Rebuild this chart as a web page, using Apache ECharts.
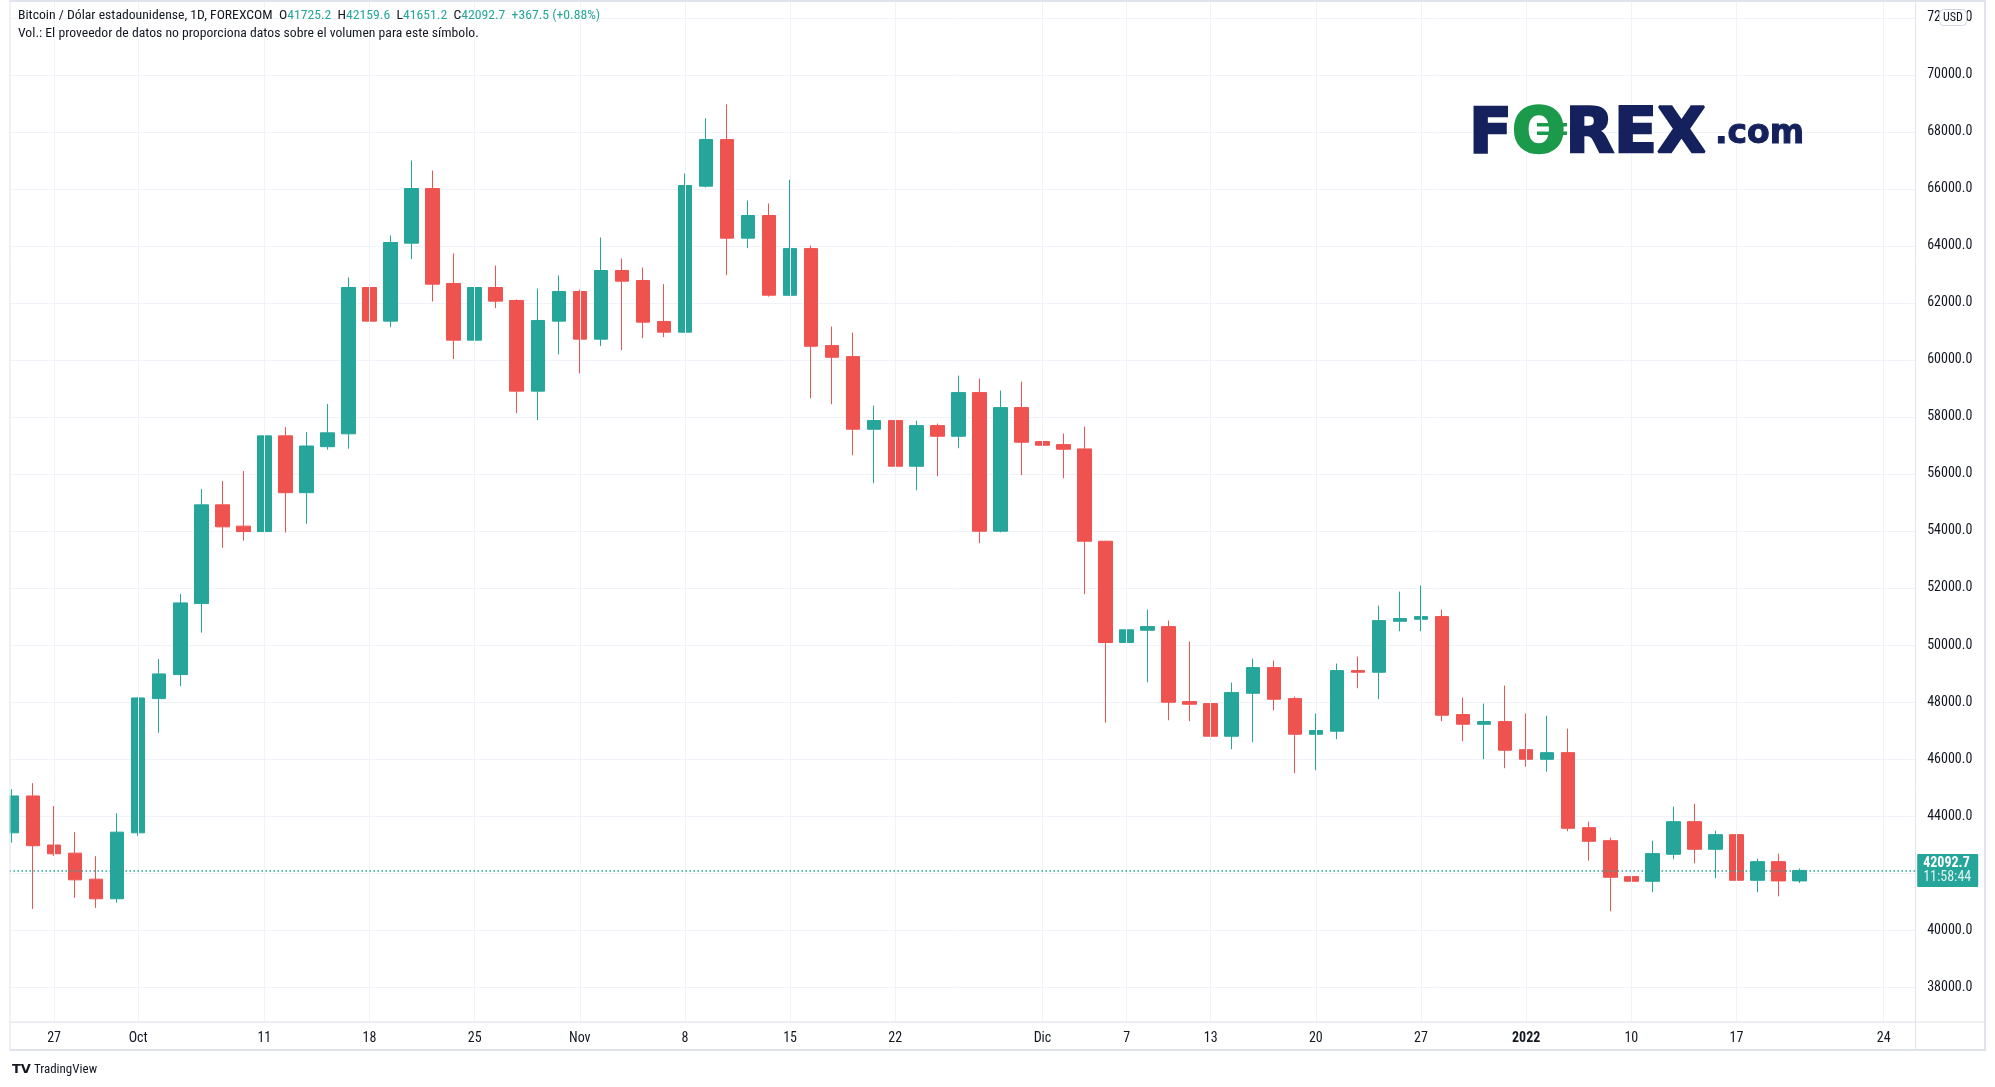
<!DOCTYPE html>
<html><head><meta charset="utf-8">
<script src="https://cdn.jsdelivr.net/npm/echarts@6/dist/echarts.min.js"></script>
<style>html,body{margin:0;padding:0;background:#fff}#c{width:1995px;height:1087px}</style>
</head><body><div id="c"></div>
<script>
const tradingDates = [
'2021-09-23','2021-09-24','2021-09-27','2021-09-28','2021-09-29','2021-09-30',
'2021-10-01','2021-10-04','2021-10-05','2021-10-06','2021-10-07','2021-10-08','2021-10-11','2021-10-12','2021-10-13','2021-10-14','2021-10-15','2021-10-18','2021-10-19','2021-10-20','2021-10-21','2021-10-22','2021-10-25','2021-10-26','2021-10-27','2021-10-28','2021-10-29',
'2021-11-01','2021-11-02','2021-11-03','2021-11-04','2021-11-05','2021-11-08','2021-11-09','2021-11-10','2021-11-11','2021-11-12','2021-11-15','2021-11-16','2021-11-17','2021-11-18','2021-11-19','2021-11-22','2021-11-23','2021-11-24','2021-11-25','2021-11-26','2021-11-29','2021-11-30',
'2021-12-01','2021-12-02','2021-12-03','2021-12-06','2021-12-07','2021-12-08','2021-12-09','2021-12-10','2021-12-13','2021-12-14','2021-12-15','2021-12-16','2021-12-17','2021-12-20','2021-12-21','2021-12-22','2021-12-23','2021-12-24','2021-12-27','2021-12-28','2021-12-29','2021-12-30','2021-12-31',
'2022-01-03','2022-01-04','2022-01-05','2022-01-06','2022-01-07','2022-01-10','2022-01-11','2022-01-12','2022-01-13','2022-01-14','2022-01-17','2022-01-18','2022-01-19','2022-01-20'];
const futureDates = ['2022-01-21','2022-01-22','2022-01-23','2022-01-24','2022-01-25'];

const opens = [43412,44705,42985,42700,41787,41099,43412,48120,48962,51453,54916,54169,53979,57336,55343,56956,57407,62540,61360,64095,66012,62681,60693,62540,62085,58905,61360,62400,60728,63136,62786,61348,60974,66094,67731,64270,65065,62267,63904,60502,60116,57568,57872,56270,57696,57322,58854,53991,58328,57135,57030,56878,53640,50088,50518,50646,48016,47946,46800,48308,49208,48121,46870,46976,49103,49045,50834,50904,50997,47560,47221,47315,46330,45991,46225,43594,43138,41876,41713,42660,43805,42835,43349,41748,42402,41725.2];
const highs = [44942,45155,44349,43436,42594,44100,48168,49508,51785,55474,55758,56102,57822,57644,57466,58450,62894,62681,64364,66994,66643,63733,63698,63312,62120,62505,62961,62470,64294,63557,63242,62657,66538,68475,68966,65591,65486,66324,64009,61168,60958,58398,59590,57872,57767,59450,59345,58924,59240,59099,57416,57662,53659,51965,51242,50857,50120,50401,48682,49524,49454,48192,47595,49349,49594,51383,51874,52084,51242,48156,47946,48577,47593,47522,47067,43805,43244,42507,43139,44331,44436,43489,43349,42507,42683,42159.6];
const lows = [43068,40744,42605,41135,40779,40957,43305,46922,48559,50433,53410,53659,53950,53944,54252,56849,56885,59325,61149,63534,62049,60027,60658,61815,58133,57888,60191,59524,60483,60343,60763,60798,60950,66050,62973,63920,62220,62240,58655,58445,56656,55674,55674,55429,55920,56902,53570,53950,55955,56516,55849,51783,47275,49552,48694,47361,47326,45783,46344,46590,47712,45503,45608,46695,48484,48098,50483,50483,47326,46625,45994,45678,45734,45559,43466,42437,40660,39679,41327,42484,42344,41818,41642,41327,41186,41651.2];
const closes = [44705,42961,42677,41763,41099,43436,48144,48986,51477,54916,54145,53979,57336,55343,56980,57442,62540,61360,64118,66012,62657,60693,62540,62061,58905,61383,62400,60728,63136,62762,61324,60974,66117,67731,64270,65065,62271,63904,60479,60093,57568,57872,56270,57696,57322,58854,53991,58328,57112,57007,56866,53640,50088,50534,50646,47993,47923,46800,48332,49208,48098,46870,46999,49103,49045,50857,50927,50997,47537,47221,47315,46309,45991,46225,43571,43115,41853,41713,42683,43805,42835,43349,41748,42402,41725.2,42092.7];

const xTickDates = ['2021-09-27','2021-10-01','2021-10-11','2021-10-18','2021-10-25','2021-11-01','2021-11-08','2021-11-15','2021-11-22','2021-12-01','2021-12-07','2021-12-13','2021-12-20','2021-12-27','2022-01-03','2022-01-10','2022-01-17','2022-01-24'];
const xTickText = ['27','Oct','11','18','25','Nov','8','15','22','Dic','7','13','20','27','2022','10','17','24'];
const boldTicks = ['2022'];

const categories = tradingDates.concat(futureDates);
const candleData = categories.map((d, i) => i < opens.length ? [opens[i], closes[i], lows[i], highs[i]] : '-');
const tickMap = {};
xTickDates.forEach((d, i) => tickMap[d] = xTickText[i]);

const n = closes.length - 1;
const chg = closes[n] - closes[n - 1];
const pct = chg / closes[n - 1] * 100;
const sgn = chg >= 0 ? '+' : '';

const UP = '#26a69a', DOWN = '#ef5350', TXT = '#131722', GRID = '#f0f3fa', BORDER = '#e0e3eb';
const NAVY = '#14215c', LOGOGREEN = '#1b9a4b';
const FONT = "'Liberation Sans Narrow','Arial Narrow','Roboto Condensed',sans-serif";

const headerText = '{d|Bitcoin / Dólar estadounidense, 1D, FOREXCOM  O}{g|' + opens[n].toFixed(1) +
  '}{d|  H}{g|' + highs[n].toFixed(1) + '}{d|  L}{g|' + lows[n].toFixed(1) + '}{d|  C}{g|' + closes[n].toFixed(1) +
  '}{g|  ' + sgn + chg.toFixed(1) + ' (' + sgn + pct.toFixed(2) + '%)}';

const chart = echarts.init(document.getElementById('c'));
chart.setOption({
  animation: false,
  backgroundColor: '#ffffff',
  grid: { left: 1.5, right: 79.8, top: 0, bottom: 65, containLabel: false },
  xAxis: {
    type: 'category', data: categories, boundaryGap: true,
    axisLine: { show: false }, axisTick: { show: false }, splitLine: { show: false },
    axisLabel: {
      interval: (i, v) => tickMap[v] !== undefined,
      formatter: v => boldTicks.indexOf(tickMap[v]) >= 0 ? '{b|' + tickMap[v] + '}' : (tickMap[v] || ''),
      margin: 9, color: TXT, fontSize: 14, fontFamily: FONT,
      rich: { b: { fontWeight: 'bold', fontSize: 14, fontFamily: FONT, color: TXT } }
    }
  },
  yAxis: {
    type: 'value', position: 'right', min: 36777, max: 72624, splitNumber: 18,
    axisLine: { show: false }, axisTick: { show: false },
    axisLabel: { margin: 12, color: TXT, fontSize: 14, fontFamily: FONT,
      formatter: v => (Math.abs(v % 2000) < 0.001 ? v.toFixed(1) : '') },
    splitLine: { lineStyle: { color: GRID, width: 1 } }
  },
  series: [
    {
      type: 'line', data: categories.map(() => '-'), z: 1, silent: true, symbol: 'none',
      markLine: { silent: true, symbol: 'none', label: { show: false },
        lineStyle: { color: GRID, type: 'solid', width: 1 },
        data: xTickDates.map(d => ({ xAxis: d })) }
    },
    {
      type: 'candlestick', data: candleData, barWidth: 14, z: 2,
      itemStyle: { color: UP, color0: DOWN, borderColor: UP, borderColor0: DOWN, borderWidth: 1 },
      markLine: {
        silent: true, symbol: 'none',
        lineStyle: { color: UP, type: [1.5, 2.5], width: 1.6, opacity: 1 },
        label: {
          show: true, position: 'end', distance: 2,
          formatter: () => '{a|' + closes[n].toFixed(1) + '}\n{b|11:58:44}',
          backgroundColor: UP, padding: [3, 7, 2, 6], borderRadius: 1,
          rich: {
            a: { color: '#ffffff', fontSize: 14, fontWeight: 'bold', fontFamily: FONT, lineHeight: 14 },
            b: { color: 'rgba(255,255,255,0.85)', fontSize: 14, fontFamily: FONT, lineHeight: 14 }
          }
        },
        data: [{ yAxis: closes[n] }]
      }
    }
  ],
  graphic: [
    { type: 'rect', z: 100, silent: true, shape: { x: 0, y: 0, width: 9.5, height: 1087 }, style: { fill: '#ffffff' } },
    { type: 'line', z: 101, silent: true, shape: { x1: 10, y1: 0, x2: 10, y2: 1051 }, style: { stroke: BORDER, lineWidth: 1 } },
    { type: 'line', z: 101, silent: true, shape: { x1: 10, y1: 1, x2: 1986, y2: 1 }, style: { stroke: BORDER, lineWidth: 2 } },
    { type: 'line', z: 101, silent: true, shape: { x1: 10, y1: 1022, x2: 1986, y2: 1022 }, style: { stroke: BORDER, lineWidth: 1 } },
    { type: 'line', z: 101, silent: true, shape: { x1: 1915.5, y1: 0, x2: 1915.5, y2: 1051 }, style: { stroke: BORDER, lineWidth: 1 } },
    { type: 'line', z: 101, silent: true, shape: { x1: 1985, y1: 0, x2: 1985, y2: 1051 }, style: { stroke: BORDER, lineWidth: 2 } },
    { type: 'line', z: 101, silent: true, shape: { x1: 10, y1: 1050, x2: 1986, y2: 1050 }, style: { stroke: BORDER, lineWidth: 2 } },
    { type: 'rect', z: 102, silent: true, shape: { x: 1939.5, y: 9.5, width: 27, height: 16, r: 4 }, style: { fill: '#ffffff', stroke: '#d1d4dc', lineWidth: 1 } },
    { type: 'text', z: 103, silent: true, x: 1953, y: 18, style: { text: 'USD', fill: TXT, font: "12px " + FONT, align: 'center', verticalAlign: 'middle' } },
    { type: 'text', z: 103, silent: true, x: 18, y: 16, style: { text: headerText, verticalAlign: 'middle',
        rich: { d: { fill: TXT, fontSize: 13.7, fontFamily: FONT }, g: { fill: UP, fontSize: 13.7, fontFamily: FONT } } } },
    { type: 'text', z: 103, silent: true, x: 18, y: 34, style: { text: 'Vol.: El proveedor de datos no proporciona datos sobre el volumen para este símbolo.', fill: TXT, font: "13.7px " + FONT, verticalAlign: 'middle' } },
    { type: 'text', z: 103, silent: true, x: 1469, y: 167, style: { text: '{f|F}{o|O}{f|REX}', verticalAlign: 'bottom',
        rich: { f: { fill: NAVY, stroke: NAVY, lineWidth: 2.5, fontSize: 63, fontWeight: 'bold', fontFamily: 'DejaVu Sans' },
                o: { fill: LOGOGREEN, stroke: LOGOGREEN, lineWidth: 2.5, fontSize: 63, fontWeight: 'bold', fontFamily: 'DejaVu Sans' } } } },
    { type: 'rect', z: 104, silent: true, shape: { x: 1537, y: 123, width: 30, height: 3.5 }, style: { fill: LOGOGREEN } },
    { type: 'rect', z: 104, silent: true, shape: { x: 1537, y: 131.5, width: 30, height: 3.5 }, style: { fill: LOGOGREEN } },
    { type: 'text', z: 103, silent: true, x: 1715, y: 151, style: { text: '.com', fill: NAVY, stroke: NAVY, lineWidth: 1, font: "bold 33px 'DejaVu Sans'", verticalAlign: 'bottom' } },
    { type: 'text', z: 103, silent: true, x: 12, y: 1070, style: { text: '{i|TV}{t| TradingView}', verticalAlign: 'middle',
        rich: { i: { fill: TXT, fontSize: 13, fontWeight: 900, fontFamily: 'DejaVu Sans' }, t: { fill: TXT, fontSize: 13, fontFamily: FONT } } } }
  ]
});
</script></body></html>
